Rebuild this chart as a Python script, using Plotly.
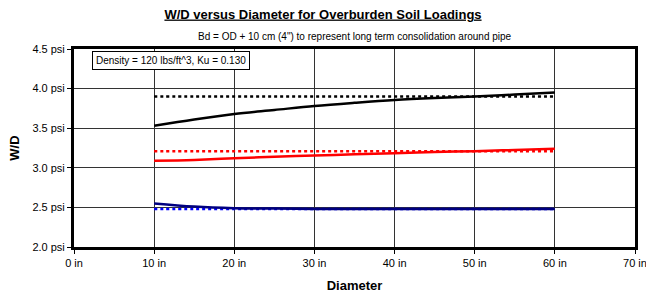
import plotly.graph_objects as go

diam = [10, 15, 20, 25, 30, 35, 40, 45, 50, 55, 60]
black_solid = [3.53, 3.61, 3.68, 3.73, 3.78, 3.82, 3.855, 3.88, 3.90, 3.925, 3.95]
black_dot = [3.90] * 11
red_solid = [3.09, 3.10, 3.12, 3.14, 3.155, 3.17, 3.185, 3.20, 3.21, 3.225, 3.24]
red_dot = [3.21] * 11
blue_solid = [2.55, 2.51, 2.49, 2.485, 2.48, 2.48, 2.48, 2.48, 2.48, 2.48, 2.48]
blue_dot = [2.48] * 11

xticks = [0, 10, 20, 30, 40, 50, 60, 70]
xlabels = [f"{v} in" for v in xticks]
yticks = [2.0, 2.5, 3.0, 3.5, 4.0, 4.5]
ylabels = [f"{v:.1f} psi" for v in yticks]

fig = go.Figure()
series = [
    (black_dot, "#000000", "dot"),
    (red_dot, "#FF0000", "dot"),
    (blue_dot, "#0000FF", "dot"),
    (black_solid, "#000000", "solid"),
    (red_solid, "#FF0000", "solid"),
    (blue_solid, "#000080", "solid"),
]
for ys, col, dash in series:
    fig.add_trace(go.Scatter(x=diam, y=ys, mode="lines",
                             line=dict(color=col, width=2.5, dash=dash, shape="spline"),
                             showlegend=False, hoverinfo="skip"))

fig.update_layout(
    width=646, height=294,
    margin=dict(l=74, r=11, t=49, b=47, autoexpand=False),
    paper_bgcolor="white", plot_bgcolor="white",
    font=dict(family="Arial, Liberation Sans, sans-serif", size=11, color="black"),
    title=dict(text="<b><u>W/D versus Diameter for Overburden Soil Loadings</u></b>",
               x=0.5, xanchor="center", y=1 - 14 / 294, yanchor="middle",
               font=dict(size=13)),
)
fig.add_annotation(text="Bd = OD + 10 cm (4\") to represent long term consolidation around pipe",
                   xref="paper", yref="paper", x=0.5, y=1.0, yshift=13, xanchor="center",
                   yanchor="middle", showarrow=False, font=dict(size=10))
fig.add_annotation(text="Density = 120 lbs/ft^3, Ku = 0.130",
                   xref="x", yref="y", x=2.2, y=4.35, xanchor="left", yanchor="middle",
                   showarrow=False, font=dict(size=10), bordercolor="black", borderwidth=1,
                   borderpad=3, bgcolor="white")

fig.update_xaxes(range=[0, 70], tickvals=xticks, ticktext=xlabels,
                 showgrid=True, gridcolor="#333333", gridwidth=1,
                 showline=True, linecolor="black", linewidth=3, mirror=True,
                 ticks="outside", ticklen=4, tickcolor="black", zeroline=False,
                 automargin=False, ticklabeloverflow="allow",
                 title=dict(text="<b>Diameter</b>", font=dict(size=13), standoff=13))
fig.update_yaxes(range=[2.0, 4.5], tickvals=yticks, ticktext=ylabels,
                 showgrid=True, gridcolor="#333333", gridwidth=1,
                 showline=True, linecolor="black", linewidth=3, mirror=True,
                 ticks="outside", ticklen=4, tickcolor="black", zeroline=False,
                 automargin=False, ticklabeloverflow="allow",
                 title=dict(text="<b>W/D</b>", font=dict(size=13), standoff=10))

fig.write_html("out.html", config={"displayModeBar": False},
               post_script="document.body.style.margin='0';document.body.style.overflow='hidden';")
